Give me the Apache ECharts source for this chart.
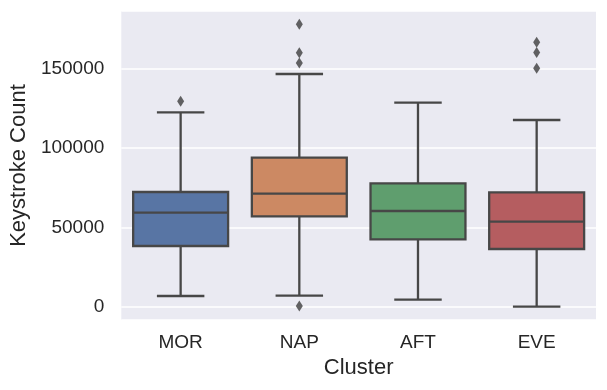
<!DOCTYPE html>
<html>
<head>
<meta charset="utf-8">
<script src="https://cdn.jsdelivr.net/npm/echarts@6/dist/echarts.min.js"></script>
<style>
  html, body { margin: 0; padding: 0; background: #fff; }
  #chart { width: 607px; height: 390px; }
</style>
</head>
<body>
<div id="chart"></div>
<script>
const categories = ["MOR", "NAP", "AFT", "EVE"];
const whisker_low = [6740, 6930, 4410, 0];
const q1 = [38220, 56930, 42440, 36340];
const median = [59190, 71160, 60260, 53530];
const q3 = [72230, 93830, 77710, 72040];
const whisker_high = [122420, 146540, 128460, 117570];
const outliers = [
  [129340],
  [177830, 159950, 153460, 440],
  [],
  [166500, 160000, 150100]
];
const box_colors = ["#5875a4", "#cc8963", "#5f9e6e", "#b55d60"];
const y_ticks = [0, 50000, 100000, 150000];

const line_color = "#474747";
const text_color = "#262626";
const font = "'Liberation Sans', Arial, sans-serif";

const box_data = categories.map((c, i) => [
  i, whisker_low[i], q1[i], median[i], q3[i], whisker_high[i]
]);
const outlier_data = [];
outliers.forEach((vals, i) => {
  vals.forEach(v => outlier_data.push([i, v]));
});

function renderBox(params, api) {
  const idx = api.value(0);
  const band = api.size([1, 0])[0];
  const boxW = band * 0.8;
  const capW = band * 0.4;
  const low = api.coord([idx, api.value(1)]);
  const p25 = api.coord([idx, api.value(2)]);
  const p50 = api.coord([idx, api.value(3)]);
  const p75 = api.coord([idx, api.value(4)]);
  const high = api.coord([idx, api.value(5)]);
  const x = low[0];
  const lineStyle = { stroke: line_color, lineWidth: 2.3, fill: null };
  return {
    type: "group",
    children: [
      { type: "line", shape: { x1: x, y1: p75[1], x2: x, y2: high[1] }, style: lineStyle },
      { type: "line", shape: { x1: x, y1: p25[1], x2: x, y2: low[1] }, style: lineStyle },
      { type: "line", shape: { x1: x - capW / 2, y1: high[1], x2: x + capW / 2, y2: high[1] }, style: lineStyle },
      { type: "line", shape: { x1: x - capW / 2, y1: low[1], x2: x + capW / 2, y2: low[1] }, style: lineStyle },
      {
        type: "rect",
        shape: { x: x - boxW / 2, y: p75[1], width: boxW, height: p25[1] - p75[1] },
        style: { fill: box_colors[idx], stroke: line_color, lineWidth: 2.3 }
      },
      { type: "line", shape: { x1: x - boxW / 2, y1: p50[1], x2: x + boxW / 2, y2: p50[1] }, style: lineStyle }
    ]
  };
}

const chart = echarts.init(document.getElementById("chart"), null, { renderer: "canvas" });
chart.setOption({
  animation: false,
  backgroundColor: "#ffffff",
  grid: {
    left: 119,
    right: 11,
    top: 11,
    bottom: 70,
    show: true,
    backgroundColor: "#eaeaf2",
    borderWidth: 0
  },
  xAxis: {
    type: "category",
    data: categories,
    boundaryGap: true,
    name: "Cluster",
    nameLocation: "middle",
    nameGap: 36,
    nameTextStyle: { fontFamily: font, fontSize: 22, color: text_color },
    axisLine: { show: false },
    axisTick: { show: false },
    axisLabel: { fontFamily: font, fontSize: 19, color: text_color, margin: 13 },
    splitLine: { show: false }
  },
  yAxis: {
    type: "value",
    min: -8380,
    max: 186200,
    splitNumber: 4,
    name: "Keystroke Count",
    nameLocation: "middle",
    nameRotate: 90,
    nameGap: 90,
    nameTextStyle: { fontFamily: font, fontSize: 22, color: text_color },
    axisLine: { show: false },
    axisTick: { show: false },
    axisLabel: {
      fontFamily: font,
      fontSize: 19,
      color: text_color,
      margin: 17,
      showMinLabel: false,
      showMaxLabel: false,
      formatter: v => (y_ticks.indexOf(v) >= 0 ? String(v) : "")
    },
    splitLine: { show: true, lineStyle: { color: "#ffffff", width: 1.6 } }
  },
  series: [
    {
      type: "custom",
      renderItem: renderBox,
      encode: { x: 0, y: [1, 2, 3, 4, 5] },
      data: box_data,
      z: 3
    },
    {
      type: "scatter",
      data: outlier_data,
      symbol: "diamond",
      symbolSize: [7, 11],
      itemStyle: { color: "#3d3d3d" },
      z: 4
    }
  ]
});
</script>
</body>
</html>
